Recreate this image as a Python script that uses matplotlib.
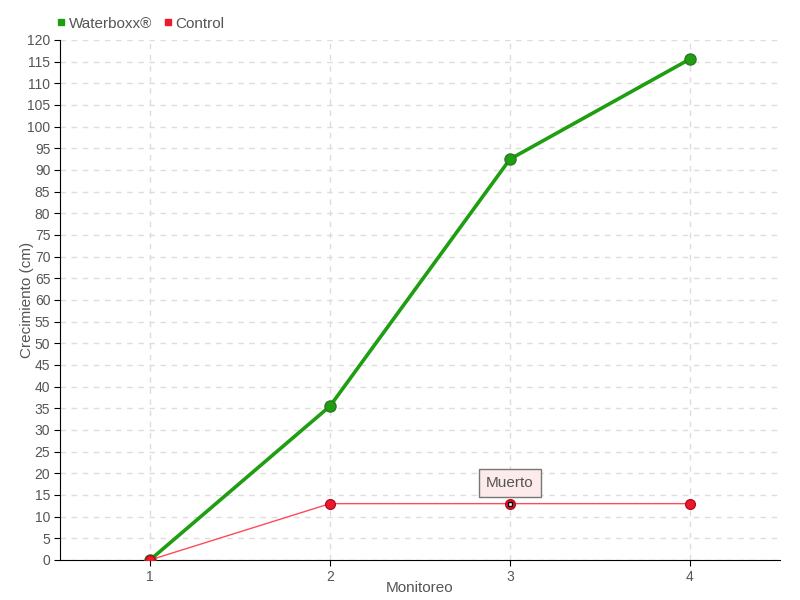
import numpy as np
import matplotlib.pyplot as plt
from matplotlib.lines import Line2D

plt.rcParams['font.family'] = ['Liberation Sans', 'DejaVu Sans']

monitoreo = [1, 2, 3, 4]
waterboxx = [0, 35.5, 92.5, 115.6]
control = [0, 13, 13, 13]

txt = '#555555'
green = '#1f9e12'
red = '#f0192c'

fig = plt.figure(figsize=(8, 6), dpi=100)
ax = fig.add_axes([0.075, 0.0667, 0.9, 0.8667])

ax.plot(monitoreo, waterboxx, '-', color=green, lw=2.6, zorder=3)
ax.plot(monitoreo, waterboxx, 'o', color=green, ms=8, mec='#2a7a20', mew=1, zorder=4)
ax.plot(monitoreo, control, '-', color='#ff4a5a', lw=1, zorder=3)
ax.plot(monitoreo, control, 'o', color=red, ms=7, mec='#b01020', mew=1, zorder=5)
ax.plot(monitoreo[2], control[2], 's', color='white', ms=3.5, mec='black', mew=1, zorder=6)

ax.annotate('Muerto', xy=(monitoreo[2], control[2]), xytext=(0, 15), textcoords='offset points',
            ha='center', va='center', fontsize=11, color=txt,
            bbox=dict(boxstyle='square,pad=0.45', fc='#fdeaea', ec='#777777', lw=1),
            zorder=7)

ax.set_xlim(0.5, 4.5)
ax.set_ylim(0, 120)
ax.set_xticks(monitoreo)
ax.set_yticks(np.arange(0, 121, 5))
ax.tick_params(colors=txt, labelsize=10, length=4, color='black')
ax.tick_params(axis='y', pad=3)
ax.grid(True, ls=(0, (4, 4)), color='#dddddd', lw=1)
ax.set_axisbelow(True)
for s in ['top', 'right']:
    ax.spines[s].set_visible(False)
ax.set_xlabel('Monitoreo', color=txt, fontsize=11)
ax.set_ylabel('Crecimiento (cm)', color=txt, fontsize=11)
ax.xaxis.set_label_coords(0.5, -0.04)
ax.yaxis.set_label_coords(-0.036, 0.5)

handles = [Line2D([], [], ls='', marker='s', color=green, ms=5),
           Line2D([], [], ls='', marker='s', color=red, ms=5)]
fig.legend(handles, ['Waterboxx®', 'Control'], loc='upper left', bbox_to_anchor=(0.052, 0.995),
           ncol=2, frameon=False, handletextpad=0.1, columnspacing=0.6, fontsize=11,
           labelcolor=txt, handlelength=0.8)

fig.savefig('out.png', dpi=100)
